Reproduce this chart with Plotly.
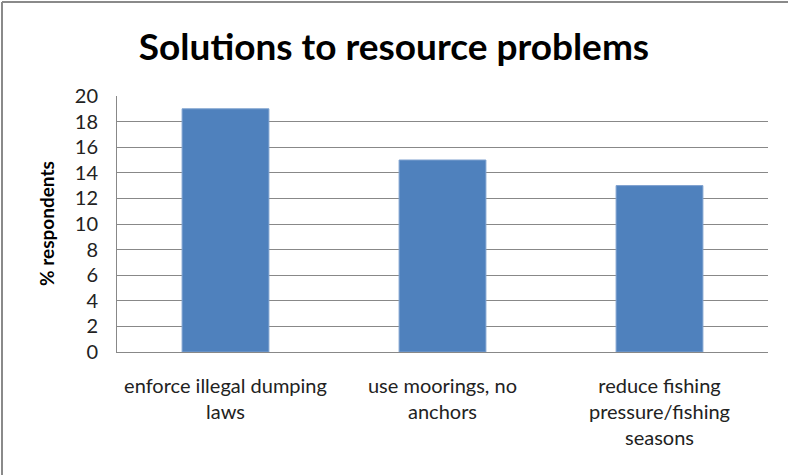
import plotly.graph_objects as go

categories = ["enforce illegal dumping<br>laws", "use moorings, no<br>anchors", "reduce fishing<br>pressure/fishing<br>seasons"]
values = [19, 15, 13]
y_ticks = list(range(0, 21, 2))

W, H = 788, 475
ML, MR, MT, MB = 117, 20, 96, 123
pw, ph = W - ML - MR, H - MT - MB

fig = go.Figure(go.Bar(
    x=categories, y=values, width=0.4,
    marker=dict(color="#4F81BD", line=dict(color="#7EA1CF", width=1)),
))

fig.update_layout(
    width=W, height=H,
    margin=dict(l=ML, r=MR, t=MT, b=MB, autoexpand=False),
    paper_bgcolor="white", plot_bgcolor="white",
    font=dict(family="Lato, sans-serif", color="#222"),
    title=dict(text="<b>Solutions to resource problems</b>", x=0.5, xanchor="center",
               y=1 - 47 / H, yanchor="middle", font=dict(size=37, color="black"),
               automargin=False),
    showlegend=False,
)
fig.update_xaxes(showline=True, linecolor="#888", linewidth=1, ticks="",
                 tickfont=dict(size=20, color="#222"), showgrid=False,
                 automargin=False, ticklabelstandoff=16)
fig.update_yaxes(range=[0, 20], tickvals=y_ticks, showline=True, linecolor="#888", linewidth=1,
                 showgrid=True, gridcolor="#888", gridwidth=1, ticks="",
                 tickfont=dict(size=20, color="#222"), automargin=False,
                 ticklabelstandoff=14, zeroline=False)

fig.add_annotation(text="<b>% respondents</b>", textangle=-90, showarrow=False,
                   xref="paper", yref="paper", x=(46 - ML) / pw, y=0.5,
                   xanchor="center", yanchor="middle",
                   font=dict(size=19, color="black"))

# partial outer frame (left and top edges)
fig.add_shape(type="line", xref="paper", yref="paper",
              x0=(2 - ML) / pw, x1=(2 - ML) / pw, y0=-(MB) / ph, y1=1 + (MT - 2) / ph,
              line=dict(color="#8a8a8a", width=2))
fig.add_shape(type="line", xref="paper", yref="paper",
              x0=(2 - ML) / pw, x1=(W - ML) / pw, y0=1 + (MT - 2) / ph, y1=1 + (MT - 2) / ph,
              line=dict(color="#8a8a8a", width=2))

fig.write_html("out.html", config={"displayModeBar": False},
               post_script="document.body.style.margin='0';document.body.style.overflow='hidden';")
